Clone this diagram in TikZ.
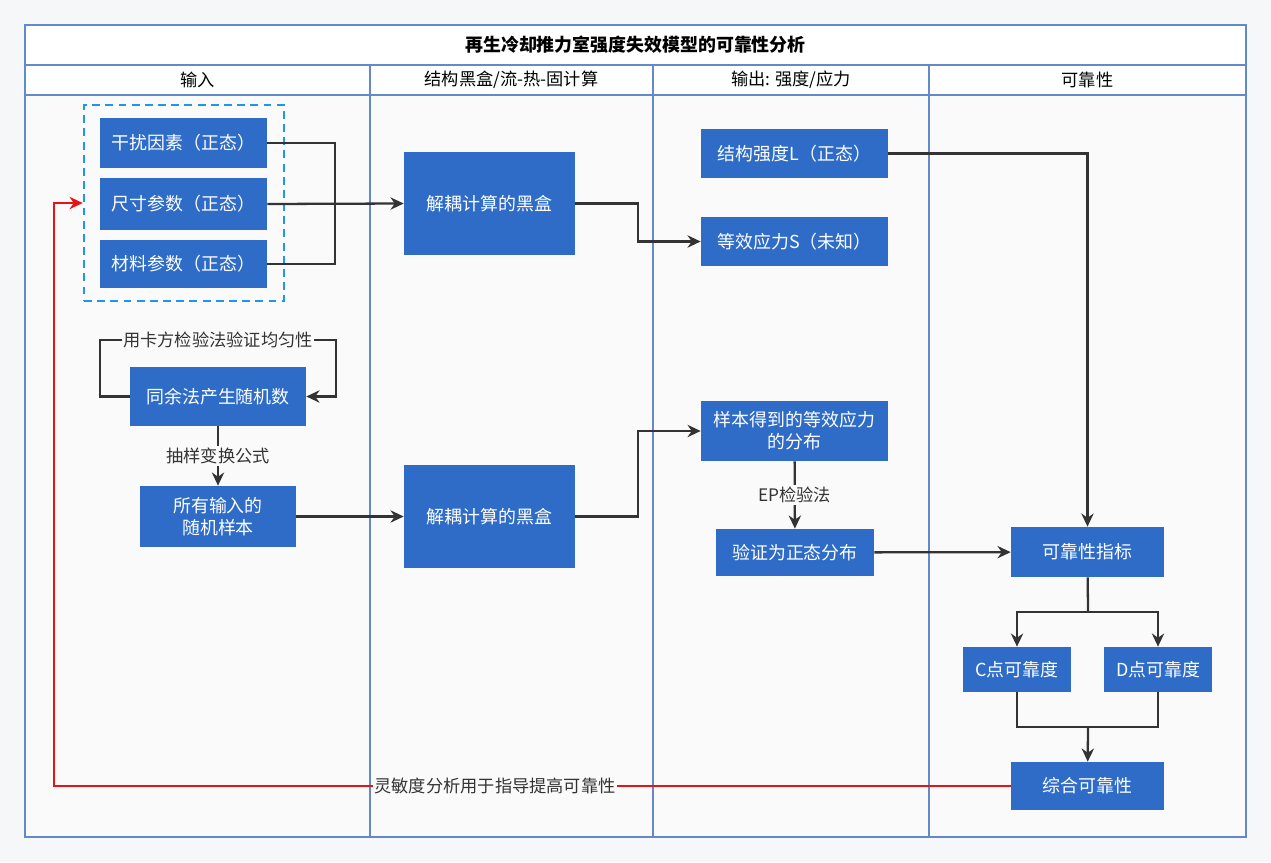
\documentclass[tikz,border=0pt]{standalone}
\usepackage{fontspec}
\setmainfont{Noto Sans CJK SC}
\usetikzlibrary{positioning, arrows.meta}

\definecolor{boxblue}{RGB}{46,108,200}
\definecolor{laneline}{RGB}{98,138,200}
\definecolor{dashblue}{RGB}{32,150,235}
\definecolor{linegray}{RGB}{51,51,51}
\definecolor{bggray}{RGB}{246,247,249}
\definecolor{lanegray}{RGB}{250,250,250}
\definecolor{fbred}{RGB}{230,20,20}

\begin{document}
\begin{tikzpicture}[x=0.02cm, y=-0.02cm,
    box/.style={rectangle, fill=boxblue, text=white, align=center, inner sep=0pt,
      font=\fontsize{10.2}{12.5}\selectfont},
    lbl/.style={fill=lanegray, text=linegray, inner sep=1pt, font=\fontsize{9.8}{12}\selectfont},
    link/.style={draw=linegray, line width=1.3pt, >={Stealth[length=7.5pt, width=7pt]}},
    lane/.style={draw=laneline, line width=0.6pt}]

    % Frame and lanes
    \fill[bggray] (0,0) rectangle (1271,862);
    \fill[lanegray] (25,95) rectangle (1246,837);
    \fill[white] (25,25) rectangle (1246,95);
    \draw[lane] (25,25) rectangle (1246,837);
    \draw[lane] (25,65) -- (1246,65);
    \draw[lane] (25,95) -- (1246,95);
    \foreach \x in {370, 653, 929} {
      \draw[lane] (\x,65) -- (\x,837);
    }
    \node[font=\fontsize{10.2}{12}\selectfont\bfseries] (title) at (635.5,45) {再生冷却推力室强度失效模型的可靠性分析};
    \node[font=\fontsize{9.8}{12}\selectfont] (head1) at (197.5,80) {输入};
    \node[font=\fontsize{9.8}{12}\selectfont] (head2) at (511.5,80) {结构黑盒/流-热-固计算};
    \node[font=\fontsize{9.8}{12}\selectfont] (head3) at (791,80) {输出: 强度/应力};
    \node[font=\fontsize{9.8}{12}\selectfont] (head4) at (1087.5,80) {可靠性};

    % Input lane
    \node[draw=dashblue, dashed, dash pattern=on 4.5pt off 3pt, line width=1.5pt,
      minimum width=4cm, minimum height=3.92cm] (inbox) at (184,203) {};
    \node[box, minimum width=3.34cm, minimum height=1cm] (in1) at (183.5,143) {干扰因素（正态）};
    \node[box, minimum width=3.34cm, minimum height=1.04cm] (in2) at (183.5,204) {尺寸参数（正态）};
    \node[box, minimum width=3.34cm, minimum height=0.96cm] (in3) at (183.5,264) {材料参数（正态）};
    \node[box, minimum width=3.52cm, minimum height=1.18cm] (rng) at (218,396.5) {同余法产生随机数};
    \node[box, minimum width=3.12cm, minimum height=1.22cm] (smp) at (218,516.5) {所有输入的\\随机样本};

    % Black box lane
    \node[box, minimum width=3.42cm, minimum height=2.06cm] (bb1) at (489.5,203.5) {解耦计算的黑盒};
    \node[box, minimum width=3.42cm, minimum height=2.06cm] (bb2) at (489.5,516.5) {解耦计算的黑盒};

    % Output lane
    \node[box, minimum width=3.74cm, minimum height=0.98cm] (sl) at (794.5,153.5) {结构强度L（正态）};
    \node[box, minimum width=3.74cm, minimum height=0.98cm] (ss) at (794.5,241.5) {等效应力S（未知）};
    \node[box, minimum width=3.74cm, minimum height=1.2cm] (dist) at (794.5,431) {样本得到的等效应力\\的分布};
    \node[box, minimum width=3.16cm, minimum height=0.94cm] (norm) at (795,552.5) {验证为正态分布};

    % Reliability lane
    \node[box, minimum width=3.06cm, minimum height=1cm] (idx) at (1087.5,552) {可靠性指标};
    \node[box, minimum width=2.16cm, minimum height=0.9cm] (cpt) at (1017,669.5) {C点可靠度};
    \node[box, minimum width=2.16cm, minimum height=0.9cm] (dpt) at (1158,669.5) {D点可靠度};
    \node[box, minimum width=3.06cm, minimum height=0.96cm] (tot) at (1087.5,786) {综合可靠性};

    % Helper points
    \coordinate (join) at (335,204);
    \coordinate (loopl) at (100,340);
    \coordinate (loopr) at (336,340);
    \coordinate (split) at (1088,612);
    \coordinate (merge) at (1088,727);
    \coordinate (fbk) at (54,786);

    % Connections
    \draw[link] (in1.east) -| (join) |- (in3.east);
    \draw[link, ->] (in2.east) -- (bb1.west);
    \draw[link, ->] (bb1.east) -- ++(63,0) |- (ss.west);
    \draw[link, ->] (sl.east) -| (idx.north);
    \draw[link, ->] (rng.west) -| (loopl) -- node[lbl] {用卡方检验法验证均匀性} (loopr) |- (rng.east);
    \draw[link, ->] (rng) -- node[lbl] {抽样变换公式} (smp);
    \draw[link, ->] (smp) -- (bb2);
    \draw[link, ->] (bb2.east) -- ++(63,0) |- (dist.west);
    \draw[link, ->] (dist) -- node[lbl] {EP检验法} (norm);
    \draw[link, ->] (norm) -- (idx);
    \draw[link] (idx) -- (split);
    \draw[link, ->] (split) -| (cpt);
    \draw[link, ->] (split) -| (dpt);
    \draw[link] (cpt) |- (merge);
    \draw[link] (dpt) |- (merge);
    \draw[link, ->] (merge) -- (tot);

    % Feedback
    \draw[link, draw=fbred, ->] (tot.west) -- node[lbl, pos=0.539, text=linegray] {灵敏度分析用于指导提高可靠性} (fbk) |- (inbox.west);
  \end{tikzpicture}
\end{document}
